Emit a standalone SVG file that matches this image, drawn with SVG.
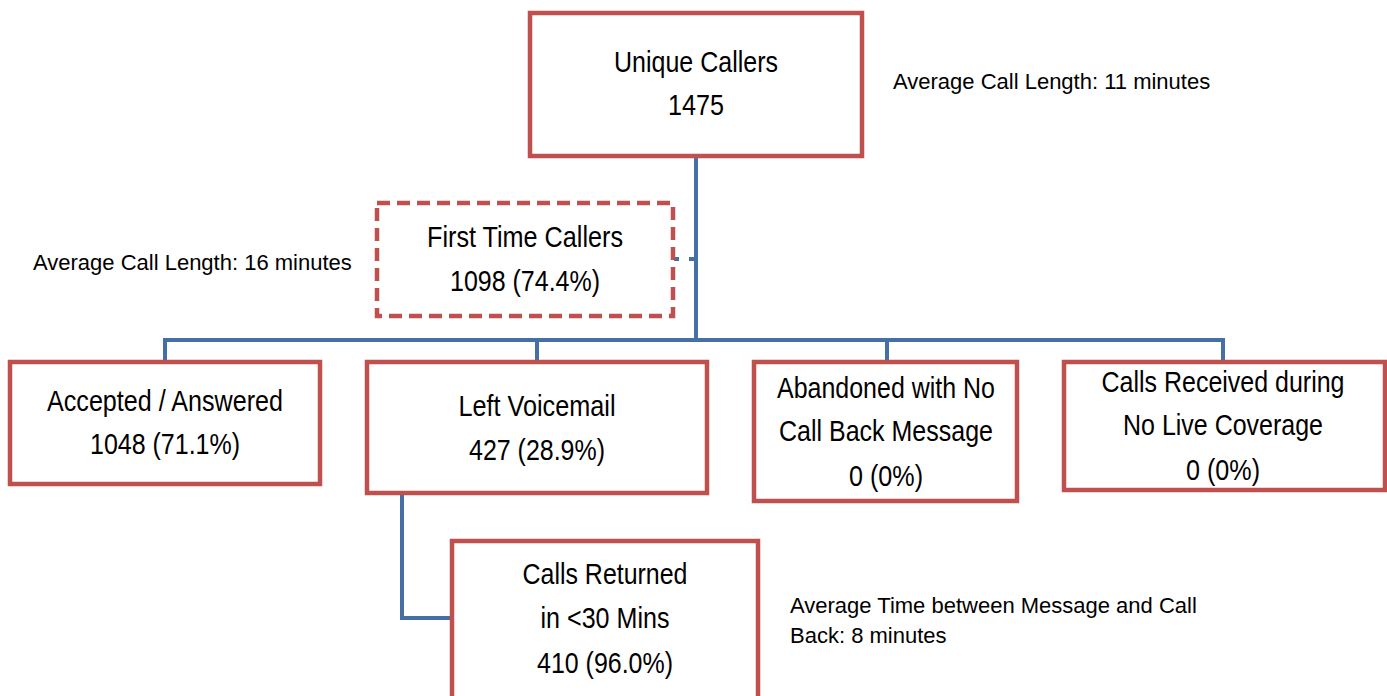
<svg xmlns="http://www.w3.org/2000/svg" width="1387" height="696" viewBox="0 0 1387 696">
<style>
.box{fill:#fff;stroke:#C0504D;stroke-width:4.5}
.dash{fill:#fff;stroke:#C0504D;stroke-width:4.5;stroke-dasharray:13 7}
.conn{fill:none;stroke:#4470A5;stroke-width:4}
.t{font-family:"Liberation Sans",Arial,sans-serif;font-size:30px;fill:#000;text-anchor:middle}
.s{font-family:"Liberation Sans",Arial,sans-serif;font-size:22px;fill:#000}
</style>
<rect width="1387" height="696" fill="#fff"/>
<g id="connectors">
<path class="conn" d="M696 157V340M165 362V340H1223V362M537 340V362M887 340V362"/>
<path class="conn" d="M402 493V618H452"/>
<path class="conn" stroke-width="3" d="M674 259H679M689 259H694"/>
</g>
<g id="unique">
<rect class="box" x="530" y="13" width="332" height="143"/>
<text class="t" x="696" y="72" textLength="164" lengthAdjust="spacingAndGlyphs">Unique Callers</text>
<text class="t" x="696" y="115" textLength="56" lengthAdjust="spacingAndGlyphs">1475</text>
</g>
<g id="first">
<rect class="dash" x="377" y="203" width="296" height="113"/>
<text class="t" x="525" y="247" textLength="196" lengthAdjust="spacingAndGlyphs">First Time Callers</text>
<text class="t" x="525" y="291" textLength="150" lengthAdjust="spacingAndGlyphs">1098 (74.4%)</text>
</g>
<g id="accepted">
<rect class="box" x="10" y="362" width="310" height="122"/>
<text class="t" x="165" y="411" textLength="236" lengthAdjust="spacingAndGlyphs">Accepted / Answered</text>
<text class="t" x="165" y="454" textLength="150" lengthAdjust="spacingAndGlyphs">1048 (71.1%)</text>
</g>
<g id="voicemail">
<rect class="box" x="367" y="362" width="340" height="131"/>
<text class="t" x="537" y="416" textLength="157" lengthAdjust="spacingAndGlyphs">Left Voicemail</text>
<text class="t" x="537" y="460" textLength="136" lengthAdjust="spacingAndGlyphs">427 (28.9%)</text>
</g>
<g id="abandoned">
<rect class="box" x="754" y="362" width="263" height="139"/>
<text class="t" x="886" y="398" textLength="218" lengthAdjust="spacingAndGlyphs">Abandoned with No</text>
<text class="t" x="886" y="441" textLength="214" lengthAdjust="spacingAndGlyphs">Call Back Message</text>
<text class="t" x="886" y="486" textLength="74" lengthAdjust="spacingAndGlyphs">0 (0%)</text>
</g>
<g id="nolive">
<rect class="box" x="1064" y="362" width="321" height="128"/>
<text class="t" x="1223" y="392" textLength="243" lengthAdjust="spacingAndGlyphs">Calls Received during</text>
<text class="t" x="1223" y="435" textLength="200" lengthAdjust="spacingAndGlyphs">No Live Coverage</text>
<text class="t" x="1223" y="480" textLength="74" lengthAdjust="spacingAndGlyphs">0 (0%)</text>
</g>
<g id="returned">
<rect class="box" x="452" y="541" width="306" height="160"/>
<text class="t" x="605" y="584" textLength="165" lengthAdjust="spacingAndGlyphs">Calls Returned</text>
<text class="t" x="605" y="628" textLength="129" lengthAdjust="spacingAndGlyphs">in &lt;30 Mins</text>
<text class="t" x="605" y="673" textLength="136" lengthAdjust="spacingAndGlyphs">410 (96.0%)</text>
</g>
<g id="notes">
<text class="s" x="893" y="89">Average Call Length: 11 minutes</text>
<text class="s" x="33" y="270">Average Call Length: 16 minutes</text>
<text class="s" x="790" y="613">Average Time between Message and Call</text>
<text class="s" x="790" y="643">Back: 8 minutes</text>
</g>
</svg>
